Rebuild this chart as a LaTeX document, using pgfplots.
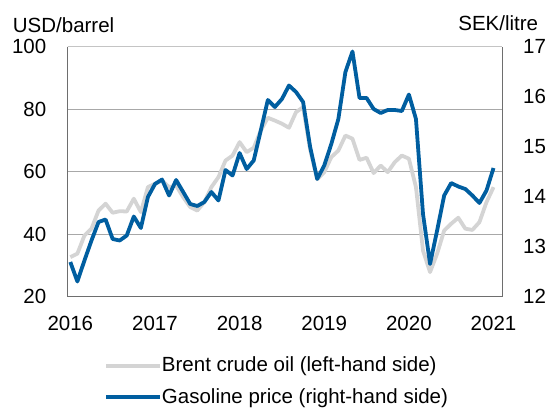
\documentclass[border=0pt]{standalone}
\usepackage{fontspec}
\setmainfont{Liberation Sans}
\usepackage{pgfplots}
\usepackage{pgfplotstable}
\pgfplotsset{compat=1.18}
\definecolor{oilgray}{HTML}{D4D4D4}
\definecolor{gasblue}{HTML}{005EA0}
\definecolor{axgray}{HTML}{6E6E6E}
\definecolor{gridgray}{HTML}{A8A8A8}
\definecolor{gridlight}{HTML}{D0D0D0}
\definecolor{topgray}{HTML}{C4C4C4}

\pgfplotstableread{
i brent
0 32.6
1 33.7
2 39.5
3 41.7
4 47.5
5 49.7
6 46.8
7 47.3
8 47.2
9 51.3
10 47.0
11 55.0
12 56.1
13 57.1
14 55.0
15 55.5
16 51.8
17 48.6
18 47.5
19 50.2
20 55.0
21 58.2
22 63.5
23 65.1
24 69.4
25 66.2
26 67.6
27 73.1
28 77.2
29 76.3
30 75.3
31 74.0
32 79.0
33 80.6
34 67.0
35 57.5
36 59.8
37 64.6
38 66.7
39 71.5
40 70.5
41 63.7
42 64.4
43 59.5
44 61.9
45 59.8
46 63.0
47 65.1
48 64.1
49 55.0
50 34.7
51 27.8
52 33.7
53 41.1
54 43.3
55 45.2
56 41.7
57 41.3
58 43.8
59 50.2
60 55.0
}\brent

\pgfplotstableread{
i gas
0 12.69
1 12.30
2 12.72
3 13.12
4 13.49
5 13.54
6 13.15
7 13.12
8 13.22
9 13.60
10 13.37
11 13.99
12 14.25
13 14.34
14 14.02
15 14.33
16 14.09
17 13.85
18 13.81
19 13.89
20 14.09
21 13.92
22 14.53
23 14.42
24 14.87
25 14.55
26 14.72
27 15.32
28 15.93
29 15.79
30 15.95
31 16.22
32 16.09
33 15.89
34 14.99
35 14.35
36 14.62
37 15.05
38 15.55
39 16.49
40 16.90
41 15.97
42 15.97
43 15.75
44 15.67
45 15.73
46 15.73
47 15.71
48 16.04
49 15.55
50 13.65
51 12.65
52 13.32
53 14.02
54 14.27
55 14.20
56 14.15
57 14.02
58 13.87
59 14.12
60 14.57
}\gas

\begin{document}
\fontsize{20.5bp}{24bp}\selectfont
\begin{tikzpicture}
\pgfplotsset{
  common/.style={
    width=434.5bp, height=250bp, scale only axis,
    xmin=-0.4, xmax=61.2,
    axis line style={draw=none},
    major tick length=0pt, tick style={draw=none},
    /pgf/number format/assume math mode=true,
    clip=false,
  }
}
\begin{axis}[common,
  ymin=20, ymax=100,
  ytick={20,60,80,100},
  extra y ticks={40},
  extra y tick style={grid style={gridlight, line width=1bp}},
  ymajorgrids,
  major grid style={gridgray, line width=0.8bp},
  xtick={0,12,...,60},
  xticklabels={2016,2017,2018,2019,2020,2021},
  xticklabel style={anchor=north, inner sep=0pt, yshift=-19bp},
  yticklabel style={anchor=east, inner sep=0pt, xshift=-21bp},
]
\draw[topgray, line width=1bp] (rel axis cs:0,1) -- (rel axis cs:1,1);
\draw[axgray, line width=1bp] (rel axis cs:0,1) -- (rel axis cs:0,0) -- (rel axis cs:1,0) -- (rel axis cs:1,1);
\addplot[oilgray, line width=3.8bp, line join=round] table[x=i, y=brent] {\brent};
\node[anchor=west, inner sep=0pt] at ([xshift=-54.8bp, yshift=21bp]rel axis cs:0,1) {USD/barrel};
\node[anchor=east, inner sep=0pt] at ([xshift=36.3bp, yshift=23bp]rel axis cs:1,1) {SEK/litre};
\end{axis}
\begin{axis}[common,
  ymin=12, ymax=17,
  ytick={12,13,14,15,16,17},
  xtick=\empty,
  yticklabel pos=right,
  yticklabel style={anchor=west, inner sep=0pt, xshift=21bp},
  legend style={draw=none, fill=none, at={(axis description cs:0.084,-0.34)}, anchor=west,
    inner sep=0pt, row sep=13.5bp, nodes={inner sep=0pt},
    /tikz/every even column/.append style={column sep=5bp}},
  legend cell align=left,
  legend image code/.code={\draw[#1] (0bp,0bp) -- (54bp,0bp);},
]
\addlegendimage{oilgray, line width=3.5bp}
\addlegendentry{Brent crude oil (left-hand side)}
\addplot[gasblue, line width=3.8bp, line join=round] table[x=i, y=gas] {\gas};
\addlegendentry{Gasoline price (right-hand side)}
\end{axis}
\pgfresetboundingbox
\path[use as bounding box] (-67.5bp,-113.5bp) rectangle (482.5bp,296.5bp);
\end{tikzpicture}
\end{document}
